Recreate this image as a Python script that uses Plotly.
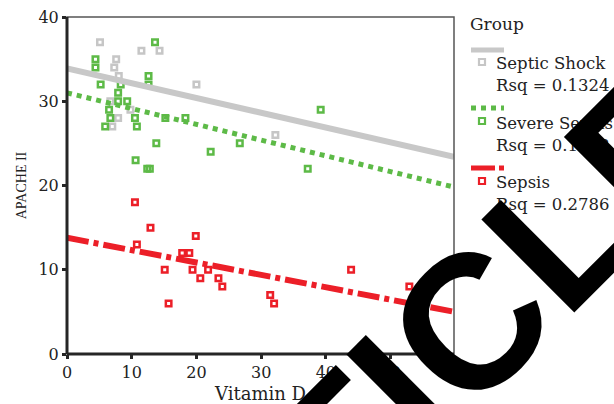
import plotly.graph_objects as go

# ---------------- data ----------------
group_names = ["Septic Shock", "Severe Sepsis", "Sepsis"]
rsq_labels = ["0.1324", "0.1758", "0.2786"]

shock_x = [5.1, 7.6, 7.3, 8.0, 11.5, 14.3, 20.0, 6.7, 9.8, 7.9, 7.0, 32.2]
shock_y = [37, 35, 34, 33, 36, 36, 32, 30, 29, 28, 27, 26]

severe_x = [4.4, 4.4, 5.2, 5.9, 6.5, 6.7, 7.9, 7.9, 8.3, 9.3, 10.5, 10.8, 10.6,
            12.4, 12.8, 12.6, 12.6, 13.6, 13.8, 15.2, 18.3, 22.2, 26.7, 37.2, 39.2]
severe_y = [35, 34, 32, 27, 29, 28, 31, 30, 32, 30, 28, 27, 23,
            22, 22, 33, 32, 37, 25, 28, 28, 24, 25, 22, 29]

sepsis_x = [10.5, 12.9, 10.8, 19.9, 17.8, 18.9, 15.1, 19.4, 21.8, 20.6, 23.4,
            24.0, 15.7, 31.4, 32.0, 43.9, 52.9]
sepsis_y = [18, 15, 13, 14, 12, 12, 10, 10, 10, 9, 9, 8, 6, 7, 6, 10, 8]

# fitted regression lines (intercept, slope)
fit_intercepts = [33.9, 31.0, 13.8]
fit_slopes = [-0.1756, -0.187, -0.147]

x_range = [0, 59.8]
y_range = [0, 40]
tick_vals_x = [0, 10, 20, 30, 40, 50]
tick_vals_y = [0, 10, 20, 30, 40]

# ---------------- styles ----------------
colors = ["#c6c6c6", "#5dba47", "#ec1f28"]
line_colors = ["#c8c8c8", "#5dba47", "#ec1f28"]
line_dashes = ["solid", "5px,5px", "22px,5px,5px,5px"]
line_widths = [6, 5, 6]
legend_dashes = ["solid", "5px,5px", "24px,4px,5px,4px"]
serif = "DejaVu Serif"
txt_col = "#222222"

W, H = 614, 404
ML, MR, MT, MB = 67, 160, 17, 50
PW, PH = W - ML - MR, H - MT - MB


def px(xp):
    return (xp - ML) / PW


def py(yp):
    return (H - MB - yp) / PH


fig = go.Figure()

xs = [shock_x, severe_x, sepsis_x]
ys = [shock_y, severe_y, sepsis_y]
for i in range(3):
    fig.add_trace(go.Scatter(
        x=xs[i], y=ys[i], mode="markers", name=group_names[i],
        marker=dict(symbol="square-open", size=5.5, color=colors[i],
                    line=dict(width=2.5, color=colors[i])),
        showlegend=False, cliponaxis=True))

for i in range(3):
    lx = [x_range[0], x_range[1]]
    ly = [fit_intercepts[i] + fit_slopes[i] * v for v in lx]
    fig.add_trace(go.Scatter(
        x=lx, y=ly, mode="lines", name=group_names[i] + " fit",
        line=dict(color=line_colors[i], width=line_widths[i], dash=line_dashes[i]),
        showlegend=False))

shapes = [
    dict(type="rect", xref="paper", yref="paper", x0=0, y0=0, x1=1, y1=1,
         line=dict(color="#555555", width=1.5), layer="above"),
    dict(type="line", xref="paper", yref="paper", x0=0, y0=0, x1=1, y1=0,
         line=dict(color="#262626", width=3), layer="above"),
    dict(type="line", xref="paper", yref="paper", x0=0, y0=0, x1=0, y1=1,
         line=dict(color="#262626", width=3), layer="above"),
]

annotations = [
    dict(text="Group", x=px(468), y=py(23.5), xref="paper", yref="paper",
         xanchor="left", yanchor="middle", showarrow=False,
         font=dict(family=serif, size=17, color=txt_col)),
]

line_rows = [50, 108, 168]
marker_rows = [62, 121, 181]
text_rows = [(63.5, 85.5), (123.5, 145), (182.5, 204.5)]
for i in range(3):
    shapes.append(dict(type="line", xref="paper", yref="paper",
                       x0=px(471), x1=px(504), y0=py(line_rows[i]), y1=py(line_rows[i]),
                       line=dict(color=line_colors[i], width=5, dash=legend_dashes[i])))
    shapes.append(dict(type="rect", xref="paper", yref="paper",
                       x0=px(479), x1=px(485), y0=py(marker_rows[i] + 3), y1=py(marker_rows[i] - 3),
                       line=dict(color=colors[i], width=2.2)))
    annotations.append(dict(text=group_names[i], x=px(494), y=py(text_rows[i][0]),
                            xref="paper", yref="paper", xanchor="left", yanchor="middle",
                            showarrow=False, font=dict(family=serif, size=16.5, color=txt_col)))
    annotations.append(dict(text="Rsq = " + rsq_labels[i], x=px(494), y=py(text_rows[i][1]),
                            xref="paper", yref="paper", xanchor="left", yanchor="middle",
                            showarrow=False, font=dict(family=serif, size=16.5, color=txt_col)))

# watermark
annotations.append(dict(text="ARTICLE", x=px(398), y=py(394), xref="paper", yref="paper",
                        xanchor="center", yanchor="middle", showarrow=False, textangle=-45,
                        font=dict(family="Liberation Sans", size=191, color="#000000",
                                  weight="bold")))

fig.update_layout(
    width=W, height=H,
    margin=dict(l=ML, r=MR, t=MT, b=MB, autoexpand=False),
    plot_bgcolor="white", paper_bgcolor="white",
    showlegend=False,
    shapes=shapes, annotations=annotations,
    xaxis=dict(range=x_range, tickvals=tick_vals_x, showgrid=False, zeroline=False,
               showline=False, ticks="outside", ticklen=4, tickwidth=3,
               tickcolor="#262626",
               tickfont=dict(family=serif, size=16, color=txt_col),
               title=dict(text="Vitamin D", standoff=6,
                          font=dict(family=serif, size=18, color=txt_col))),
    yaxis=dict(range=y_range, tickvals=tick_vals_y, showgrid=False, zeroline=False,
               showline=False, ticks="outside", ticklen=4, tickwidth=3,
               tickcolor="#262626",
               tickfont=dict(family=serif, size=16, color=txt_col),
               title=dict(text="APACHE II", standoff=8,
                          font=dict(family="Liberation Serif", size=14, color=txt_col))),
)

fig.write_html("out.html", config={"displayModeBar": False},
               post_script="document.body.style.margin='0';document.body.style.padding='0';")
